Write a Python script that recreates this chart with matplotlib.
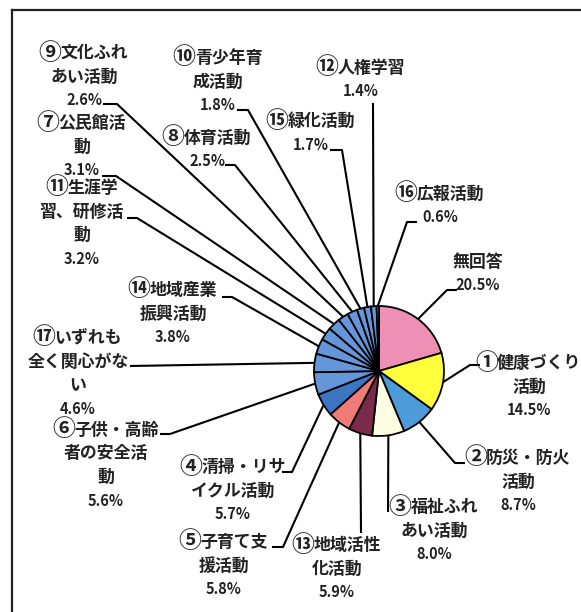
import numpy as np
import matplotlib
matplotlib.use('Agg')
import matplotlib.pyplot as plt

plt.rcParams['font.family'] = ['Noto Sans CJK JP', 'DejaVu Sans']

# Data (clockwise from 12 o'clock)
labels = ['無回答', '①健康づくり\n活動', '②防災・防火\n活動', '③福祉ふれ\nあい活動',
          '⑬地域活性\n化活動', '⑤子育て支\n援活動', '④清掃・リサ\nイクル活動',
          '⑥子供・高齢\n者の安全活\n動', '⑰いずれも\n全く関心がな\nい', '⑭地域産業\n振興活動',
          '⑪生涯学\n習、研修活\n動', '⑦公民館活\n動', '⑨文化ふれ\nあい活動', '⑧体育活動',
          '⑩青少年育\n成活動', '⑮緑化活動', '⑫人権学習', '⑯広報活動']
values = [20.5, 14.5, 8.7, 8.0, 5.9, 5.8, 5.7, 5.6, 4.6, 3.8, 3.2, 3.1, 2.6, 2.5, 1.8, 1.7, 1.4, 0.6]
colors = ['#EE8FB6', '#FFFF3C', '#4E9BD9', '#FFFCE4', '#7A2A4A', '#F07C78', '#3B77C0'] + ['#6696DA'] * 11

# Layout (pixels): text centre x, first line y
text_pos = [(478, 262), (529, 363), (518, 458), (434, 507), (337, 545), (224, 542), (233, 467),
            (106, 430), (78, 338), (173, 290), (82, 188), (82, 123), (84, 53), (207, 138),
            (218, 58), (311, 121), (361, 68), (440, 194)]
# leader elbow (x, y) and end x of the short horizontal piece
elbows = [(447, 290, 457), (470, 365, 480), (455, 463, 465), (388, 512, 388), (361, 533, 361),
          (283, 547, 272), (292, 472, 282), (170, 434, 160), (130, 366, 130), (232, 297, 222),
          (137, 218, 127), (116, 176, 102), (117, 104, 103), (235, 165, 225), (248, 110, 237),
          (342, 150, 330), (373, 103, 373), (407, 222, 417)]

W, H = 581, 612
cx, cy, r = 379, 371, 65
step = 23.5
fs = 12.2
circled = set('①②③④⑤⑥⑦⑧⑨⑩⑪⑫⑬⑭⑮⑯⑰')

fig = plt.figure(figsize=(W / 100, H / 100), dpi=100)
ax = fig.add_axes([0, 0, 1, 1])
renderer = fig.canvas.get_renderer()

wedges, _ = ax.pie(values, colors=colors, center=(cx, cy), radius=r, startangle=-90,
                   counterclock=True, frame=True,
                   wedgeprops=dict(edgecolor='black', linewidth=1.3))
ax.set_xlim(0, W)
ax.set_ylim(H, 0)
ax.set_aspect('auto')
ax.axis('off')

txt_kw = dict(va='center', fontweight='bold', color='#222222')

for w, lab, v, (tx, ty), (ex, ey, hx) in zip(wedges, labels, values, text_pos, elbows):
    ang = np.deg2rad((w.theta1 + w.theta2) / 2)
    px, py = cx + r * np.cos(ang), cy + r * np.sin(ang)
    ax.plot([px, ex, hx], [py, ey, ey], color='black', lw=1.5, solid_capstyle='butt', zorder=1)
    lines = lab.split('\n')
    for i, s in enumerate(lines):
        y = ty + i * step
        if s[0] in circled:
            # draw the circled number larger, like a full-width glyph
            t_num = ax.text(0, y, s[0], ha='left', fontsize=fs * 1.35, **txt_kw)
            t_rest = ax.text(0, y, s[1:], ha='left', fontsize=fs, **txt_kw)
            w_num = t_num.get_window_extent(renderer).width - 2
            w_rest = t_rest.get_window_extent(renderer).width
            x0 = tx - (w_num + w_rest) / 2
            t_num.set_x(x0 - 1)
            t_rest.set_x(x0 + w_num)
        else:
            ax.text(tx, y, s, ha='center', fontsize=fs, **txt_kw)
    ax.text(tx, ty + len(lines) * step, f'{v:.1f}%', ha='center', fontsize=10.5, **txt_kw)

# frame
ax.plot([12, W], [10, 10], color='#222222', lw=1.6)
ax.plot([12, 12], [10, H], color='#222222', lw=1.6)

fig.savefig('out.png', dpi=100)
